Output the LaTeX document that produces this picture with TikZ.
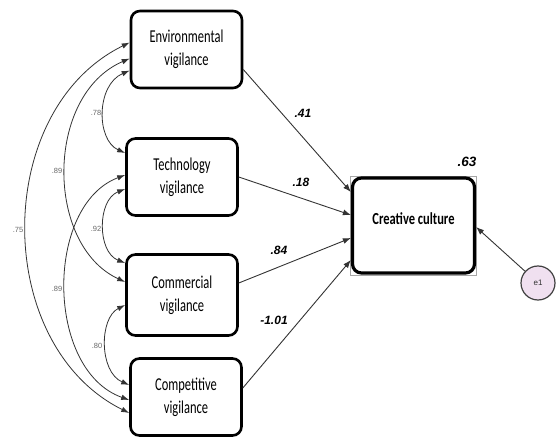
\documentclass[tikz,border=0pt]{standalone}
\usepackage{graphicx}
\usepackage{fontspec}
\setmainfont{Carlito}
\newfontfamily\numfont{Liberation Sans}
\usetikzlibrary{arrows.meta,calc}
\newcommand{\vtext}[2]{\scalebox{1}[1.45]{\begin{tabular}{@{}c@{}}#1\\#2\end{tabular}}}
\begin{document}
\begin{tikzpicture}[x=1pt,y=-1pt,
 var/.style={draw=black, line width=2.6pt, rounded corners=9pt, minimum width=111pt, minimum height=77pt, align=center, font=\fontsize{12.5}{16}\selectfont, inner sep=0pt},
 pathline/.style={draw=black!80, line width=0.9pt, -{Latex[length=8pt,width=6pt]}},
 cov/.style={draw=black!80, line width=0.8pt, {Latex[length=8pt,width=5.5pt]}-{Latex[length=8pt,width=5.5pt]}},
 coef/.style={font=\numfont\bfseries\itshape\fontsize{12}{14}\selectfont, inner sep=1pt},
 corr/.style={font=\numfont\fontsize{7.5}{9}\selectfont, text=black!60, inner sep=1pt}
]
\useasboundingbox (0,0) rectangle (558,441);
\node[var] (env) at (186.5,49.5) {\vtext{Environmental}{vigilance}};
\node[var] (tech) at (182,177) {\vtext{Technology}{vigilance}};
\node[var, minimum height=81pt] (comm) at (182,295) {\vtext{Commercial}{vigilance}};
\node[var] (comp) at (186,397) {\vtext{Competitive}{vigilance}};

\node[draw=gray!70, line width=0.6pt, minimum width=126pt, minimum height=99pt, inner sep=0pt] (ccframe) at (413.5,225.5) {};
\node[draw=black, line width=3.2pt, rounded corners=9pt, fill=white, minimum width=122pt, minimum height=95pt, font=\bfseries\fontsize{12.5}{15}\selectfont, inner sep=0pt] (cc) at (ccframe.center) {\raisebox{13pt}{\scalebox{1}[1.35]{Creative culture}}};

\node[circle, draw=black!75, line width=1.2pt, fill=violet!12, minimum size=34pt, inner sep=0pt, font=\numfont\fontsize{8}{9}\selectfont, text=black!80] (e1) at (538,283) {e1};

\draw[pathline] ($(env.east)+(0,20)$) -- ($(cc.west)+(0,-33.5)$);
\draw[pathline] (tech.east) -- ($(cc.west)+(0,-10.5)$);
\draw[pathline] ($(comm.east)+(0,-12)$) -- ($(cc.west)+(0,12.5)$);
\draw[pathline] ($(comp.east)+(0,-9)$) -- ($(cc.west)+(0,34.5)$);
\draw[pathline] (e1) -- ($(cc.east)+(0,1.5)$);

\node[coef] (l41) at (303,113) {.41};
\node[coef] (l18) at (301,182) {.18};
\node[coef] (l84) at (279,250) {.84};
\node[coef] (l101) at (274,320) {-1.01};
\node[coef, font=\numfont\bfseries\itshape\fontsize{13.5}{15}\selectfont] (l63) at (467,162) {.63};

\draw[cov] ($(env.west)+(0,21)$) .. controls (96,85) and (96,140) .. ($(tech.west)+(0,-24)$);
\draw[cov] ($(env.west)+(0,9)$) .. controls (45,95) and (45,245) .. ($(comm.west)+(0,-13)$);
\draw[cov] ($(env.west)+(0,-7)$) .. controls (-8,110) and (-8,345) .. ($(comp.west)+(0,16)$);
\draw[cov] ($(tech.west)+(0,12)$) .. controls (97,200) and (97,252) .. ($(comm.west)+(0,-32)$);
\draw[cov] ($(tech.west)+(0,-2)$) .. controls (45,205) and (45,370) .. ($(comp.west)+(0,3)$);
\draw[cov] ($(comm.west)+(0,10)$) .. controls (99,318) and (99,372) .. ($(comp.west)+(0,-12)$);

\node[corr] (c78) at (96,113) {.78};
\node[corr] (c89a) at (57,171) {.89};
\node[corr] (c75) at (18,230) {.75};
\node[corr] (c92) at (96,229) {.92};
\node[corr] (c89b) at (57,289) {.89};
\node[corr] (c80) at (97,346) {.80};
\end{tikzpicture}
\end{document}
